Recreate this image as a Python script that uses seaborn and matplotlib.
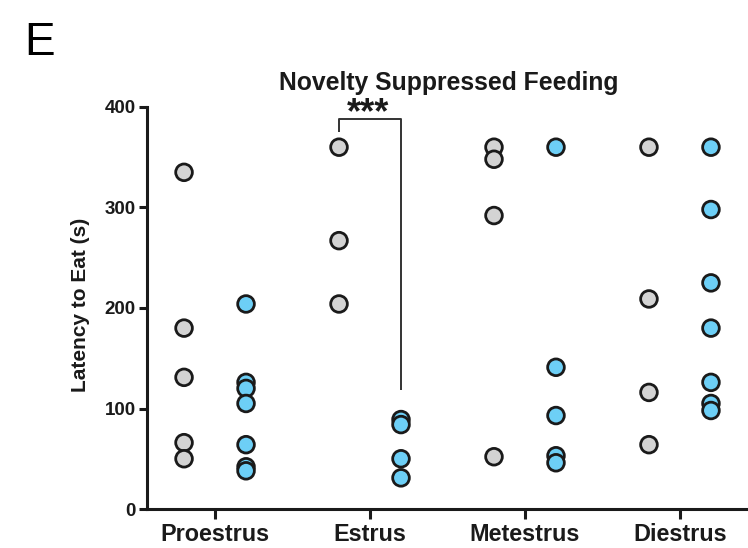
import matplotlib
matplotlib.use("Agg")
import matplotlib.pyplot as plt
import seaborn as sns
import pandas as pd

sns.set_style("ticks")
plt.rcParams['font.family'] = ['Liberation Sans', 'DejaVu Sans']

# ---- data ----
stages = ["Proestrus", "Estrus", "Metestrus", "Diestrus"]
groups = ["Control", "Treated"]
proestrus_gray = [335, 180, 131, 66, 50]
proestrus_blue = [204, 126, 120, 105, 64, 42, 38]
estrus_gray = [360, 267, 204]
estrus_blue = [89, 84, 50, 31]
metestrus_gray = [360, 348, 292, 52]
metestrus_blue = [360, 141, 93, 53, 46]
diestrus_gray = [360, 209, 116, 64]
diestrus_blue = [360, 298, 225, 180, 126, 105, 98]
yticks = [0, 100, 200, 300, 400]
bracket_y = [375, 388, 388, 118]

series = {
    ("Proestrus", "Control"): proestrus_gray,
    ("Proestrus", "Treated"): proestrus_blue,
    ("Estrus", "Control"): estrus_gray,
    ("Estrus", "Treated"): estrus_blue,
    ("Metestrus", "Control"): metestrus_gray,
    ("Metestrus", "Treated"): metestrus_blue,
    ("Diestrus", "Control"): diestrus_gray,
    ("Diestrus", "Treated"): diestrus_blue,
}
rows = []
for (st, g), vals in series.items():
    for v in vals:
        rows.append({"stage": st, "group": g, "latency": v})
df = pd.DataFrame(rows)

W, H = 748, 548
fig = plt.figure(figsize=(W / 100, H / 100), dpi=100)
ax = fig.add_axes([147 / W, 1 - 509 / H, (W - 147) / W, (509 - 107) / H])

sns.stripplot(data=df, x="stage", y="latency", hue="group", order=stages,
              hue_order=groups, palette=["#d3d3d3", "#6dcff6"], dodge=True,
              jitter=False, size=12, linewidth=2, edgecolor="#1a1a1a",
              legend=False, ax=ax, clip_on=False, zorder=3)

ax.set_xlim(-0.439, 3.439)
ax.set_ylim(0, 400)
ax.set_yticks(yticks)
ax.set_xlabel("")
ax.set_ylabel("")
for s in ["top", "right"]:
    ax.spines[s].set_visible(False)
for s in ["left", "bottom"]:
    ax.spines[s].set_linewidth(2.2)
    ax.spines[s].set_color("#1a1a1a")
ax.tick_params(axis="y", length=6, width=2.2, color="#1a1a1a", pad=2,
               labelsize=13.5, labelcolor="#1a1a1a")
ax.tick_params(axis="x", length=7, width=2.2, color="#1a1a1a", pad=3,
               labelsize=16.8, labelcolor="#1a1a1a")
for lab in ax.get_xticklabels() + ax.get_yticklabels():
    lab.set_fontweight("bold")

# significance bracket (Estrus: control vs treated)
ax.plot([0.8, 0.8, 1.2, 1.2], bracket_y, color="#333333", lw=1.4,
        clip_on=False, solid_capstyle="butt")
ax.text(0.99, 384, "***", ha="center", va="baseline", fontsize=26,
        fontweight="bold", color="#1a1a1a", clip_on=False)

fig.text(449 / W, 1 - 90 / H, "Novelty Suppressed Feeding", ha="center",
         va="baseline", fontsize=17.8, fontweight="bold", color="#1a1a1a")
fig.text(80 / W, 1 - 305 / H, "Latency to Eat (s)", rotation=90,
         ha="center", va="center", fontsize=15, fontweight="bold",
         color="#1a1a1a")
fig.text(24 / W, 1 - 55 / H, "E", ha="left", va="baseline", fontsize=33,
         color="black")

fig.savefig("out.png", dpi=100)
